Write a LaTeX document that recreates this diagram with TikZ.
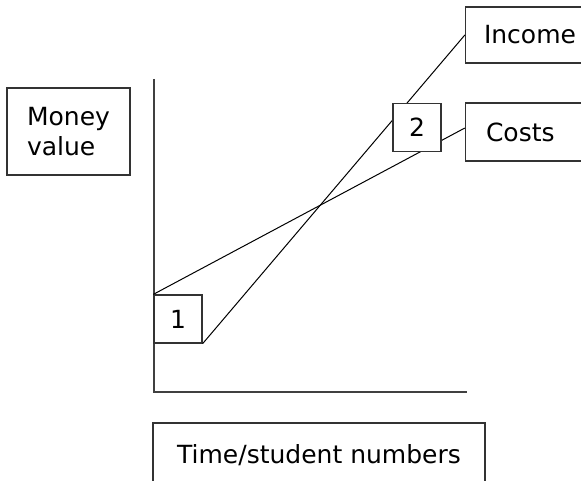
\documentclass[tikz,border=0pt]{standalone}
\usepackage{fontspec}
\setmainfont{DejaVu Sans}
\usepackage{tikz}

\begin{document}
\begin{tikzpicture}[
  x=1pt,y=-1pt,
  font=\fontsize{25}{30}\selectfont,
  textbox/.style={rectangle,draw=black!80,line width=1.3pt,fill=white,inner sep=0pt},
  numbox/.style={rectangle,draw=black!80,line width=1.3pt,fill=white,minimum size=48pt,inner sep=0pt},
  axis/.style={draw=black!75,line width=2pt}
]

\useasboundingbox (0,0) rectangle (581,481);
\clip (0,0) rectangle (581,481);

\node[textbox,minimum width=123pt,minimum height=87pt,align=left] (money) at (68.5,131.5) {Money\\value};
\node[textbox,minimum width=332pt,minimum height=64pt] (time) at (319,455) {Time/student numbers};
\node[textbox,text width=90pt,minimum height=56pt,inner xsep=18.5pt,align=left] (income) at (529,35) {Income};
\node[textbox,text width=86pt,minimum height=58pt,inner xsep=20.5pt,align=left] (costs) at (529,132) {Costs};

\draw[axis] (154,79) |- (467,392);

\node[numbox] (one) at (178,319) {1};

\draw[line width=1pt] (one.north west) -- ([yshift=4pt]costs.west);
\draw[line width=1pt] (one.south east) -- (income.west);

\node[numbox] (two) at (417,127.5) {2};

\end{tikzpicture}
\end{document}
